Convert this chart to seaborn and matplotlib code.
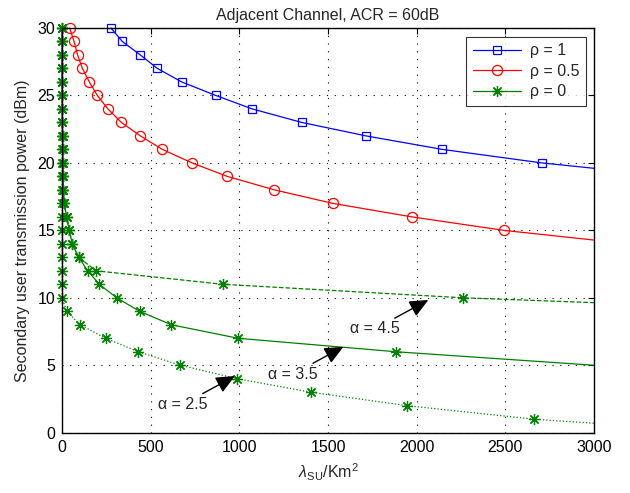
import numpy as np
import pandas as pd
import seaborn as sns
import matplotlib
matplotlib.use("Agg")
import matplotlib.pyplot as plt

# ---- data ----
rho1_x = [276, 340, 442, 538, 675, 867, 1073, 1352, 1715, 2145, 2705, 3000]
rho1_y = [30, 29, 28, 27, 26, 25, 24, 23, 22, 21, 20, 19.6]

rho05_x = [43, 68, 88, 115, 154, 199, 259, 335, 442, 566, 733, 932, 1198, 1527, 1972, 2491, 3000]
rho05_y = [30, 29, 28, 27, 26, 25, 24, 23, 22, 21, 20, 19, 18, 17, 16, 15, 14.28]

a25_x = [0.1, 0.1, 0.15, 0.2, 0.25, 0.3, 0.35, 0.4, 0.5, 0.6, 0.7, 0.8, 0.9, 1.0, 1.1, 1.2, 1.3, 1.4, 1.5, 1.6, 1.8,
         26, 103, 246, 431, 668, 989, 1404, 1948, 2664, 3000]
a25_y = [30, 29, 28, 27, 26, 25, 24, 23, 22, 21, 20, 19, 18, 17, 16, 15, 14, 13, 12, 11, 10,
         9, 8, 7, 6, 5, 4, 3, 2, 1, 0.7]

a35_x = [0.3, 0.4, 0.6, 0.8, 1.1, 1.4, 1.8, 2.3, 3.0, 3.8, 4.8, 6, 8, 12, 26, 41, 58, 94, 145, 211, 308, 438, 617, 993, 1884, 3000]
a35_y = [30, 29, 28, 27, 26, 25, 24, 23, 22, 21, 20, 19, 18, 17, 16, 15, 14, 13, 12, 11, 10, 9, 8, 7, 6, 5.0]

a45_x = [0.3, 0.4, 0.6, 0.8, 1.1, 1.4, 1.8, 2.3, 3.0, 3.8, 4.8, 6, 8, 12, 26, 41, 58, 94, 192, 908, 2264, 3000]
a45_y = [30, 29, 28, 27, 26, 25, 24, 23, 22, 21, 20, 19, 18, 17, 16, 15, 14, 13, 12, 11, 10, 9.64]

x_ticks = [0, 500, 1000, 1500, 2000, 2500, 3000]
y_ticks = [0, 5, 10, 15, 20, 25, 30]

title = "Adjacent Channel, ACR = 60dB"
xlabel = r"$\lambda_{\mathrm{SU}}$/Km$^2$"
ylabel = "Secondary user transmission power (dBm)"

sns.set_style("white")
plt.rcParams["font.family"] = ["Liberation Sans", "DejaVu Sans"]
plt.rcParams["mathtext.fontset"] = "custom"
plt.rcParams["mathtext.rm"] = "Liberation Sans"
plt.rcParams["mathtext.it"] = "Liberation Sans:italic"
plt.rcParams["mathtext.bf"] = "Liberation Sans:bold"

FS = 11.5
fig = plt.figure(figsize=(6.3, 4.93), dpi=100)
ax = fig.add_axes([62 / 630, 1 - 432.7 / 493, (594 - 62) / 630, (432.7 - 28) / 493])

GREEN = "#008000"
star = (8, 2, 0)

def draw(xs, ys, color, marker, ms, ls, label=None, dashes=None):
    df = pd.DataFrame({"x": xs, "y": ys})
    kw = {}
    if dashes is not None:
        kw["dashes"] = dashes
    sns.lineplot(data=df, x="x", y="y", ax=ax, color=color, marker=marker,
                 markersize=ms, markerfacecolor="none" if marker in ("s", "o") else color,
                 markeredgecolor=color, markeredgewidth=0.9, linewidth=0.9,
                 linestyle=ls, estimator=None, sort=False, clip_on=False,
                 markevery=list(range(len(xs) - 1)), label=label, **kw)

draw(rho1_x, rho1_y, "blue", "s", 6.3, "-", label="ρ = 1")
draw(rho05_x, rho05_y, "red", "o", 7.3, "-", label="ρ = 0.5")
draw(a35_x, a35_y, GREEN, star, 8, "-", label="ρ = 0")
draw(a25_x, a25_y, GREEN, star, 8, ":", dashes=(0.8, 5))
draw(a45_x, a45_y, GREEN, star, 8, "--", dashes=(12, 5))

ax.set_xlim(0, 3000)
ax.set_ylim(0, 30)
ax.set_xticks(x_ticks)
ax.set_yticks(y_ticks)
ax.tick_params(direction="in", length=4, width=0.8, top=True, right=True,
               labelsize=FS, colors="black", pad=5)
ax.grid(True, linestyle=(0, (1, 6)), color="black", linewidth=0.8)
for s in ax.spines.values():
    s.set_color("black")
    s.set_linewidth(1.0)
    s.set_zorder(5)

ax.set_title(title, fontsize=FS, pad=6)
ax.set_xlabel(xlabel, fontsize=FS, labelpad=5)
ax.set_ylabel(ylabel, fontsize=FS, labelpad=5)

leg = ax.legend(loc="upper right", fontsize=FS, frameon=True, fancybox=False,
                edgecolor="black", handlelength=3.0, borderpad=0.4, labelspacing=0.35,
                handletextpad=0.6, bbox_to_anchor=(1.0, 0.998))
leg.get_frame().set_linewidth(0.8)

arrow = dict(arrowstyle="-|>,head_length=1.0,head_width=0.45", color="black",
             linewidth=1.0, shrinkA=0, shrinkB=0)
ax.annotate("α = 2.5", xy=(975, 4.2), xytext=(682, 2.1), fontsize=FS,
            ha="center", va="center", arrowprops=arrow)
ax.annotate("α = 3.5", xy=(1587, 6.37), xytext=(1303, 4.35), fontsize=FS,
            ha="center", va="center", arrowprops=arrow)
ax.annotate("α = 4.5", xy=(2066, 9.84), xytext=(1764, 7.69), fontsize=FS,
            ha="center", va="center", arrowprops=arrow)

fig.savefig("out.png", dpi=100)
